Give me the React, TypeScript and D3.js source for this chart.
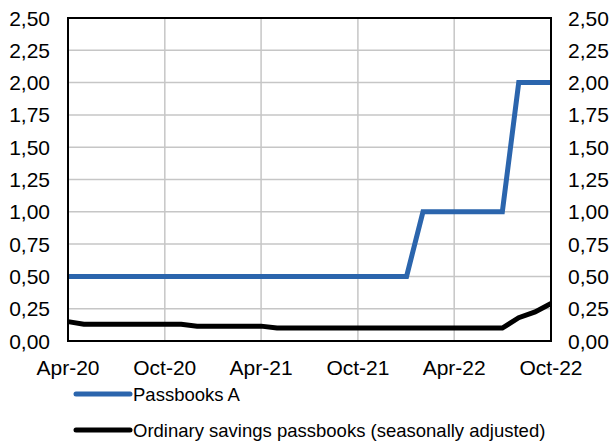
import React from "react";
import * as d3 from "d3";

// monthly observations, Apr-20 .. Oct-22
const months = [
  "2020-04", "2020-05", "2020-06", "2020-07", "2020-08", "2020-09", "2020-10",
  "2020-11", "2020-12", "2021-01", "2021-02", "2021-03", "2021-04", "2021-05",
  "2021-06", "2021-07", "2021-08", "2021-09", "2021-10", "2021-11", "2021-12",
  "2022-01", "2022-02", "2022-03", "2022-04", "2022-05", "2022-06", "2022-07",
  "2022-08", "2022-09", "2022-10"
];

const passbooksA = [
  0.5, 0.5, 0.5, 0.5, 0.5, 0.5, 0.5,
  0.5, 0.5, 0.5, 0.5, 0.5, 0.5, 0.5,
  0.5, 0.5, 0.5, 0.5, 0.5, 0.5, 0.5,
  0.5, 1.0, 1.0, 1.0, 1.0, 1.0, 1.0,
  2.0, 2.0, 2.0
];

const ordinary = [
  0.15, 0.13, 0.13, 0.13, 0.13, 0.13, 0.13,
  0.13, 0.115, 0.115, 0.115, 0.115, 0.115, 0.1,
  0.1, 0.1, 0.1, 0.1, 0.1, 0.1, 0.1,
  0.1, 0.1, 0.1, 0.1, 0.1, 0.1, 0.1,
  0.18, 0.225, 0.29
];

const xTicks = ["2020-04", "2020-10", "2021-04", "2021-10", "2022-04", "2022-10"];
const xTickLabels = ["Apr-20", "Oct-20", "Apr-21", "Oct-21", "Apr-22", "Oct-22"];
const yTicks = [0, 0.25, 0.5, 0.75, 1, 1.25, 1.5, 1.75, 2, 2.25, 2.5];

const seriesNames = ["Passbooks A", "Ordinary savings passbooks (seasonally adjusted)"];
const seriesColors = ["#2B65AD", "#000000"];

const W = 614;
const H = 441;
const margin = { left: 68, right: 63, top: 18, bottom: 100 };
const FONT = "'Liberation Sans', Arial, sans-serif";

export default function App() {
  const parse = d3.timeParse("%Y-%m");
  const dates = months.map(m => parse(m) as Date);

  const x = d3
    .scaleTime()
    .domain(d3.extent(dates) as [Date, Date])
    .range([margin.left, W - margin.right]);
  const y = d3
    .scaleLinear()
    .domain([0, 2.5])
    .range([H - margin.bottom, margin.top]);

  const line = d3
    .line<number>()
    .x((_, i) => x(dates[i]))
    .y(d => y(d));

  const series = [passbooksA, ordinary];
  const x0 = margin.left, x1 = W - margin.right;
  const y0 = H - margin.bottom, y1 = margin.top;
  const fmt = (t: number) => t.toFixed(2).replace(".", ",");

  return (
    <svg width={W} height={H} style={{ position: "absolute", left: 0, top: 0 }} fontFamily={FONT}>
      <rect width={W} height={H} fill="#fff" />
      {/* grid */}
      {yTicks.slice(1, -1).map(t => (
        <line key={"h" + t} x1={x0} x2={x1} y1={y(t)} y2={y(t)} stroke="#c6c6c6" strokeWidth={1.5} />
      ))}
      {xTicks.slice(1, -1).map(t => (
        <line key={"v" + t} x1={x(parse(t) as Date)} x2={x(parse(t) as Date)} y1={y1} y2={y0} stroke="#c6c6c6" strokeWidth={1.5} />
      ))}
      {/* series */}
      {series.map((s, i) => (
        <path key={i} d={line(s) || ""} fill="none" stroke={seriesColors[i]} strokeWidth={5} strokeLinejoin="miter" />
      ))}
      {/* frame */}
      <rect x={x0} y={y1} width={x1 - x0} height={y0 - y1} fill="none" stroke="#000" strokeWidth={2} />
      {/* y labels */}
      {yTicks.map(t => (
        <g key={"yl" + t} fontSize={21} fill="#000">
          <text x={x0 - 18} y={y(t)} dy="0.36em" textAnchor="end">{fmt(t)}</text>
          <text x={x1 + 17} y={y(t)} dy="0.36em" textAnchor="start">{fmt(t)}</text>
        </g>
      ))}
      {/* x labels */}
      {xTicks.map((t, i) => (
        <text key={"xl" + t} x={x(parse(t) as Date)} y={y0 + 26} dy="0.36em" textAnchor="middle" fontSize={21}>
          {xTickLabels[i]}
        </text>
      ))}
      {/* legend */}
      {seriesNames.map((n, i) => (
        <g key={n} transform={`translate(76, ${394 + i * 36})`}>
          <line x1={0} x2={54} y1={0} y2={0} stroke={seriesColors[i]} strokeWidth={5} strokeLinecap="round" />
          <text x={57} y={0} dy="0.36em" fontSize={18.5}>{n}</text>
        </g>
      ))}
    </svg>
  );
}
